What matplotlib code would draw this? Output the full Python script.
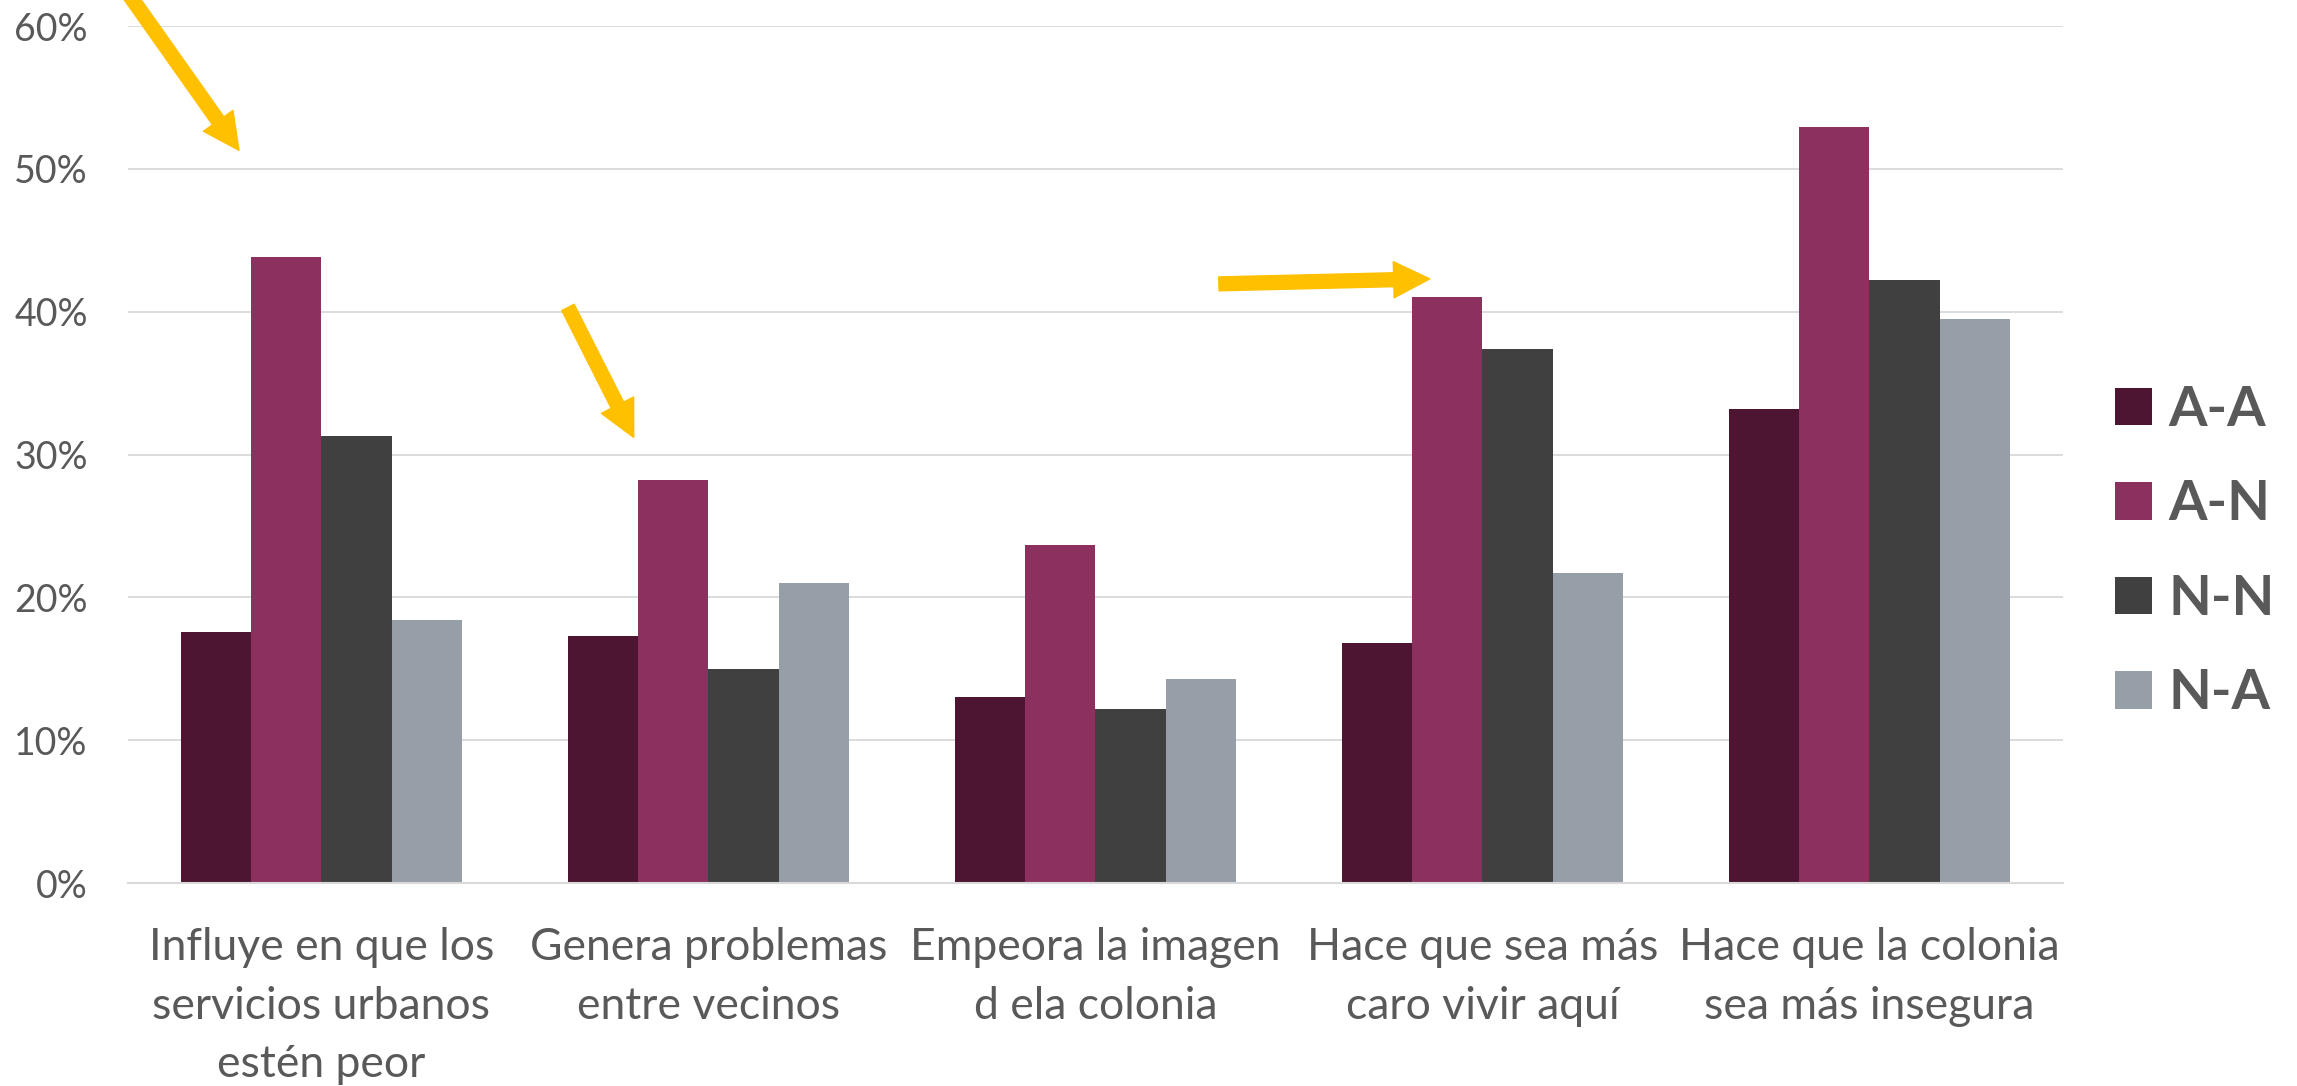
import numpy as np
import matplotlib.pyplot as plt
from matplotlib.ticker import PercentFormatter

plt.rcParams['font.family'] = ['Lato', 'DejaVu Sans']

categories = ['Influye en que los\nservicios urbanos\nestén peor',
              'Genera problemas\nentre vecinos',
              'Empeora la imagen\nd ela colonia',
              'Hace que sea más\ncaro vivir aquí',
              'Hace que la colonia\nsea más insegura']
series = ['A-A', 'A-N', 'N-N', 'N-A']
aa = [0.176, 0.173, 0.130, 0.168, 0.332]
an = [0.438, 0.282, 0.237, 0.410, 0.529]
nn = [0.313, 0.150, 0.122, 0.374, 0.422]
na = [0.184, 0.210, 0.143, 0.217, 0.395]
colors = ['#4E1532', '#8C3060', '#404040', '#969EA8']

# yellow callout arrows: (tail x, tail y) -> (tip x, tip y) in data units
arrows = [((-0.505, 0.625), (-0.213, 0.513)),
          ((0.637, 0.403), (0.807, 0.312)),
          ((2.319, 0.4195), (2.864, 0.423))]

grey = '#595959'
fig = plt.figure(figsize=(22.97, 10.86), dpi=100)
ax = fig.add_axes([0.0557, 0.1869, 0.8424, 0.7891])

x = np.arange(len(categories))
w = 0.182
for k, (name, vals) in enumerate(zip(series, [aa, an, nn, na])):
    ax.bar(x + (k - 1.5) * w, vals, width=w, color=colors[k], label=name, zorder=2)

ax.set_xlim(-0.5, len(categories) - 0.5)
ax.set_ylim(0, 0.6)
ax.set_yticks(np.arange(0, 0.61, 0.1))
ax.yaxis.set_major_formatter(PercentFormatter(1.0, decimals=0))
ax.grid(axis='y', color='#D9D9D9', linewidth=1.3, zorder=0)
ax.set_axisbelow(True)
for s in ['top', 'right', 'left']:
    ax.spines[s].set_visible(False)
ax.spines['bottom'].set_color('#D9D9D9')
ax.spines['bottom'].set_linewidth(1.5)

ax.set_xticks(x)
ax.set_xticklabels(categories, fontsize=32, color=grey, linespacing=1.53)
ax.tick_params(axis='x', length=0, pad=32)
ax.tick_params(axis='y', length=0, pad=29, labelsize=27, labelcolor=grey)

for tail, tip in arrows:
    ax.annotate('', xy=tip, xytext=tail, annotation_clip=False,
                arrowprops=dict(arrowstyle='simple,head_length=2.6,head_width=2.6,tail_width=1.0',
                                mutation_scale=10, color='#FFC000', shrinkA=0, shrinkB=0))

leg = fig.legend(loc='center left', bbox_to_anchor=(0.9208, 0.492), frameon=False,
                 prop={'weight': 'bold', 'size': 40}, handlelength=0.66, handleheight=0.66,
                 handletextpad=0.3, labelspacing=0.8, borderpad=0, borderaxespad=0)
for t in leg.get_texts():
    t.set_color(grey)

fig.savefig('out.png', dpi=100)
